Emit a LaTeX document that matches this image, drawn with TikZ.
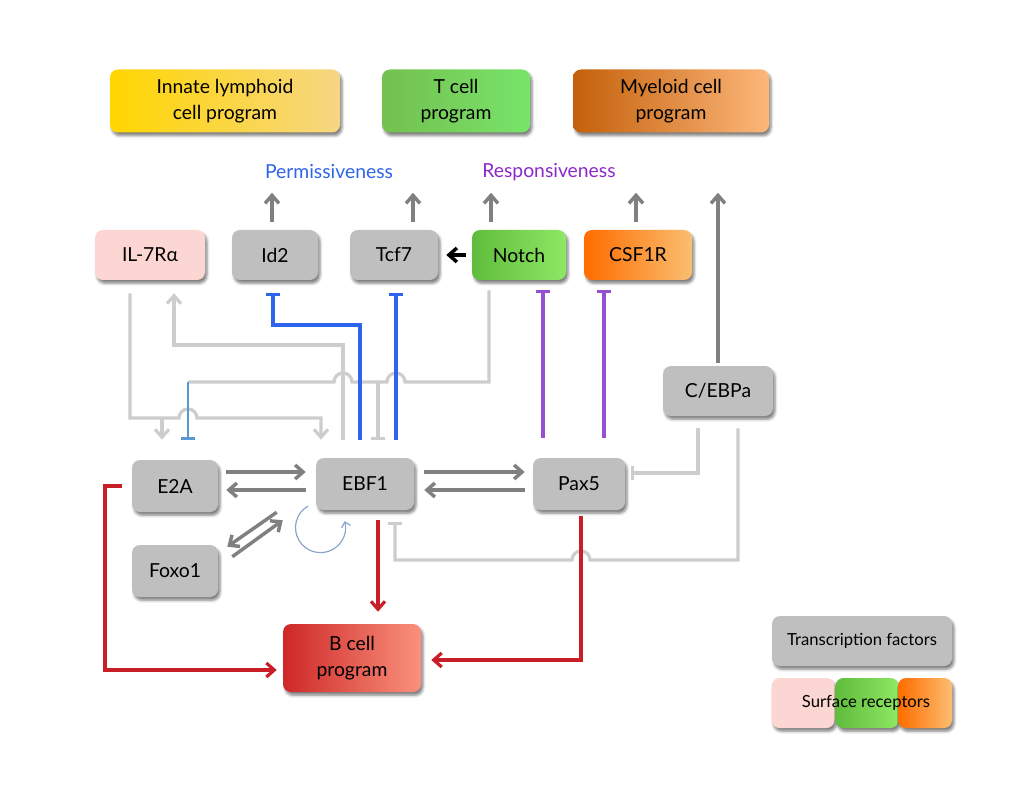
\documentclass[tikz,border=0pt]{standalone}
\usepackage{fontspec}
\setmainfont{Lato}
\usetikzlibrary{arrows.meta,shadows.blur}

\definecolor{tfgray}{RGB}{191,191,191}
\definecolor{pinkrec}{RGB}{252,214,210}
\definecolor{ilcA}{RGB}{255,214,0}
\definecolor{ilcB}{RGB}{246,214,132}
\definecolor{tcA}{RGB}{116,192,80}
\definecolor{tcB}{RGB}{120,228,106}
\definecolor{myA}{RGB}{196,96,10}
\definecolor{myB}{RGB}{252,183,122}
\definecolor{noA}{RGB}{96,188,60}
\definecolor{noB}{RGB}{142,232,100}
\definecolor{csA}{RGB}{255,108,0}
\definecolor{csB}{RGB}{250,190,112}
\definecolor{bcA}{RGB}{206,40,40}
\definecolor{bcB}{RGB}{250,145,125}
\definecolor{lgcol}{RGB}{205,205,205}
\definecolor{dgcol}{RGB}{128,128,128}
\definecolor{bluecol}{RGB}{45,100,235}
\definecolor{ltblue}{RGB}{90,150,210}
\definecolor{purplecol}{RGB}{150,80,210}
\definecolor{respcol}{RGB}{140,40,200}
\definecolor{redcol}{RGB}{200,30,40}
\definecolor{loopcol}{RGB}{140,165,200}

\newdimen\px \px=0.75pt

\tikzset{
  box/.style={rounded corners=6pt, minimum height=50\px, inner sep=2pt, align=center,
    font=\fontsize{14.5}{19.5}\selectfont,
    blur shadow={shadow xshift=1.5pt, shadow yshift=-2.5pt, shadow blur radius=2pt, shadow opacity=50}},
  tf/.style={box, fill=tfgray},
  lgline/.style={draw=lgcol, line width=2.4pt},
  dgline/.style={draw=dgcol, line width=2.6pt},
  bline/.style={draw=bluecol, line width=2.4pt},
  pline/.style={draw=purplecol, line width=2.4pt},
  rline/.style={draw=redcol, line width=2.4pt},
  inh/.style={-{Bar[width=11pt]}}
}

\begin{document}
\begin{tikzpicture}[x=0.75pt,y=-0.75pt,>={Straight Barb[length=6pt,width=10.5pt]}]
\useasboundingbox (0,0) rectangle (1019,812);

% programs
\node[box, minimum width=230\px, minimum height=63\px, left color=ilcA, right color=ilcB] (innate) at (225,101) {Innate lymphoid\\cell program};
\node[box, minimum width=148\px, minimum height=63\px, left color=tcA, right color=tcB] (tcell) at (456,101) {T cell\\program};
\node[box, minimum width=196\px, minimum height=63\px, left color=myA, right color=myB] (myeloid) at (671,101) {Myeloid cell\\program};
\node[box, minimum width=138\px, minimum height=68\px, left color=bcA, right color=bcB] (bcell) at (352,658) {B cell\\program};

\node[text=bluecol, font=\fontsize{14.5}{17}\selectfont] (perm) at (329,172) {Permissiveness};
\node[text=respcol, font=\fontsize{14.5}{17}\selectfont] (resp) at (549,172) {Responsiveness};

% receptors and factors
\node[box, minimum width=110\px, fill=pinkrec] (il7r) at (150,255) {IL-7Rα};
\node[tf, minimum width=86\px] (id2) at (275,255) {Id2};
\node[tf, minimum width=88\px] (tcf7) at (394,255) {Tcf7};
\node[box, minimum width=94\px, left color=noA, right color=noB] (notch) at (519,255) {Notch};
\node[box, minimum width=108\px, left color=csA, right color=csB] (csf1r) at (638,255) {CSF1R};
\node[tf, minimum width=110\px] (cebpa) at (718,391) {C/EBPa};
\node[tf, minimum width=86\px, minimum height=52\px] (e2a) at (175,486) {E2A};
\node[tf, minimum width=98\px, minimum height=52\px] (ebf1) at (365,484) {EBF1};
\node[tf, minimum width=92\px, minimum height=52\px] (pax5) at (579,484) {Pax5};
\node[tf, minimum width=86\px, minimum height=52\px] (foxo1) at (175,571) {Foxo1};

% legend
\node[tf, minimum width=180\px, font=\fontsize{12.5}{15}\selectfont] (legtf) at (862,641) {Transcription factors};
\node[box, minimum width=63\px, fill=pinkrec] (legpink) at (803,703) {};
\node[box, minimum width=63\px, left color=noA, right color=noB] (leggreen) at (867,703) {};
\node[box, minimum width=54\px, left color=csA, right color=csB] (legorange) at (925,703) {};
\node[font=\fontsize{12.5}{15}\selectfont] (legsr) at (866,703) {Surface receptors};

% outputs to the programs
\draw[dgline,->] ([shift={(-3,-8)}]id2.north) -- ++(0,-29);
\draw[dgline,->] ([shift={(19,-8)}]tcf7.north) -- ++(0,-29);
\draw[dgline,->] ([shift={(-28,-8)}]notch.north) -- ++(0,-29);
\draw[dgline,->] ([shift={(-2,-8)}]csf1r.north) -- ++(0,-29);
\draw[dgline,->] ([yshift=3\px]cebpa.north) -- ++(0,-170);
\draw[line width=2.6pt,->] ([xshift=-6\px]notch.west) -- ([xshift=8\px]tcf7.east);

% light grey wiring
\draw[lgline,->] ([shift={(-20,13)}]il7r.south) -- (130,418) -- (179,418)
  arc[start angle=180,end angle=360,radius=9] -- (321,418) -- ([shift={(-44,-18)}]ebf1.north);
\draw[lgline,->] (162,418) -- ([shift={(-13,-20)}]e2a.north);
\draw[lgline,->] ([shift={(-22,-18)}]ebf1.north) -- (343,345) -- (174,345) -- ([shift={(24,13)}]il7r.south);
\draw[lgline] ([shift={(-30,10)}]notch.south) -- (489,382) -- (405,382)
  arc[start angle=0,end angle=-180,radius=9] -- (352,382)
  arc[start angle=0,end angle=-180,radius=9] -- (188,382);
\draw[lgline,inh] (378,382) -- ([shift={(13,-18)}]ebf1.north);
\draw[draw=ltblue, line width=2.2pt, inh] (188,382) -- ([shift={(13,-20)}]e2a.north);
\draw[lgline,inh] ([shift={(-20,12)}]cebpa.south) -- (698,473) -- ([shift={(6,-11)}]pax5.east);
\draw[lgline,inh] ([shift={(20,12)}]cebpa.south) -- (738,560) -- (590,560)
  arc[start angle=0,end angle=-180,radius=9] -- (395,560) -- ([shift={(30,12)}]ebf1.south);

% blue and purple repression
\draw[bline,inh] ([shift={(-5,-18)}]ebf1.north) -- (360,325) -- (273,325) -- ([shift={(-2,13)}]id2.south);
\draw[bline,inh] ([shift={(31,-18)}]ebf1.north) -- ([shift={(2,13)}]tcf7.south);
\draw[pline,inh] ([shift={(-36,-20)}]pax5.north) -- ([shift={(24,10)}]notch.south);
\draw[pline,inh] ([shift={(25,-20)}]pax5.north) -- ([shift={(-34,10)}]csf1r.south);

% core network
\draw[dgline,->] ([shift={(8,-14)}]e2a.east) -- ([shift={(-10,-12)}]ebf1.west);
\draw[dgline,->] ([shift={(-10,6)}]ebf1.west) -- ([shift={(8,4)}]e2a.east);
\draw[dgline,->] ([shift={(10,-12)}]ebf1.east) -- ([shift={(-8,-12)}]pax5.west);
\draw[dgline,->] ([shift={(-8,6)}]pax5.west) -- ([shift={(10,6)}]ebf1.east);
\draw[dgline,->] ([shift={(-39,2)}]ebf1.south west) -- ([shift={(9,2)}]foxo1.north east);
\draw[dgline,->] ([shift={(14,12)}]foxo1.north east) -- ([shift={(-33,10)}]ebf1.south west);
\draw[draw=loopcol, line width=0.9pt, -{Straight Barb[length=3.5pt,width=7pt]}]
  ([shift={(-57,22)}]ebf1.center) arc[start angle=-120,end angle=-375,radius=25];

% B cell program
\draw[rline,->] ([shift={(13,10)}]ebf1.south) -- ([shift={(26,-12)}]bcell.north);
\draw[rline,->] ([xshift=-10\px]e2a.west) -- (105,486) -- (105,670) -- ([shift={(-6,12)}]bcell.west);
\draw[rline,->] ([shift={(2,6)}]pax5.south) -- (581,660) -- ([shift={(10,2)}]bcell.east);
\end{tikzpicture}
\end{document}
